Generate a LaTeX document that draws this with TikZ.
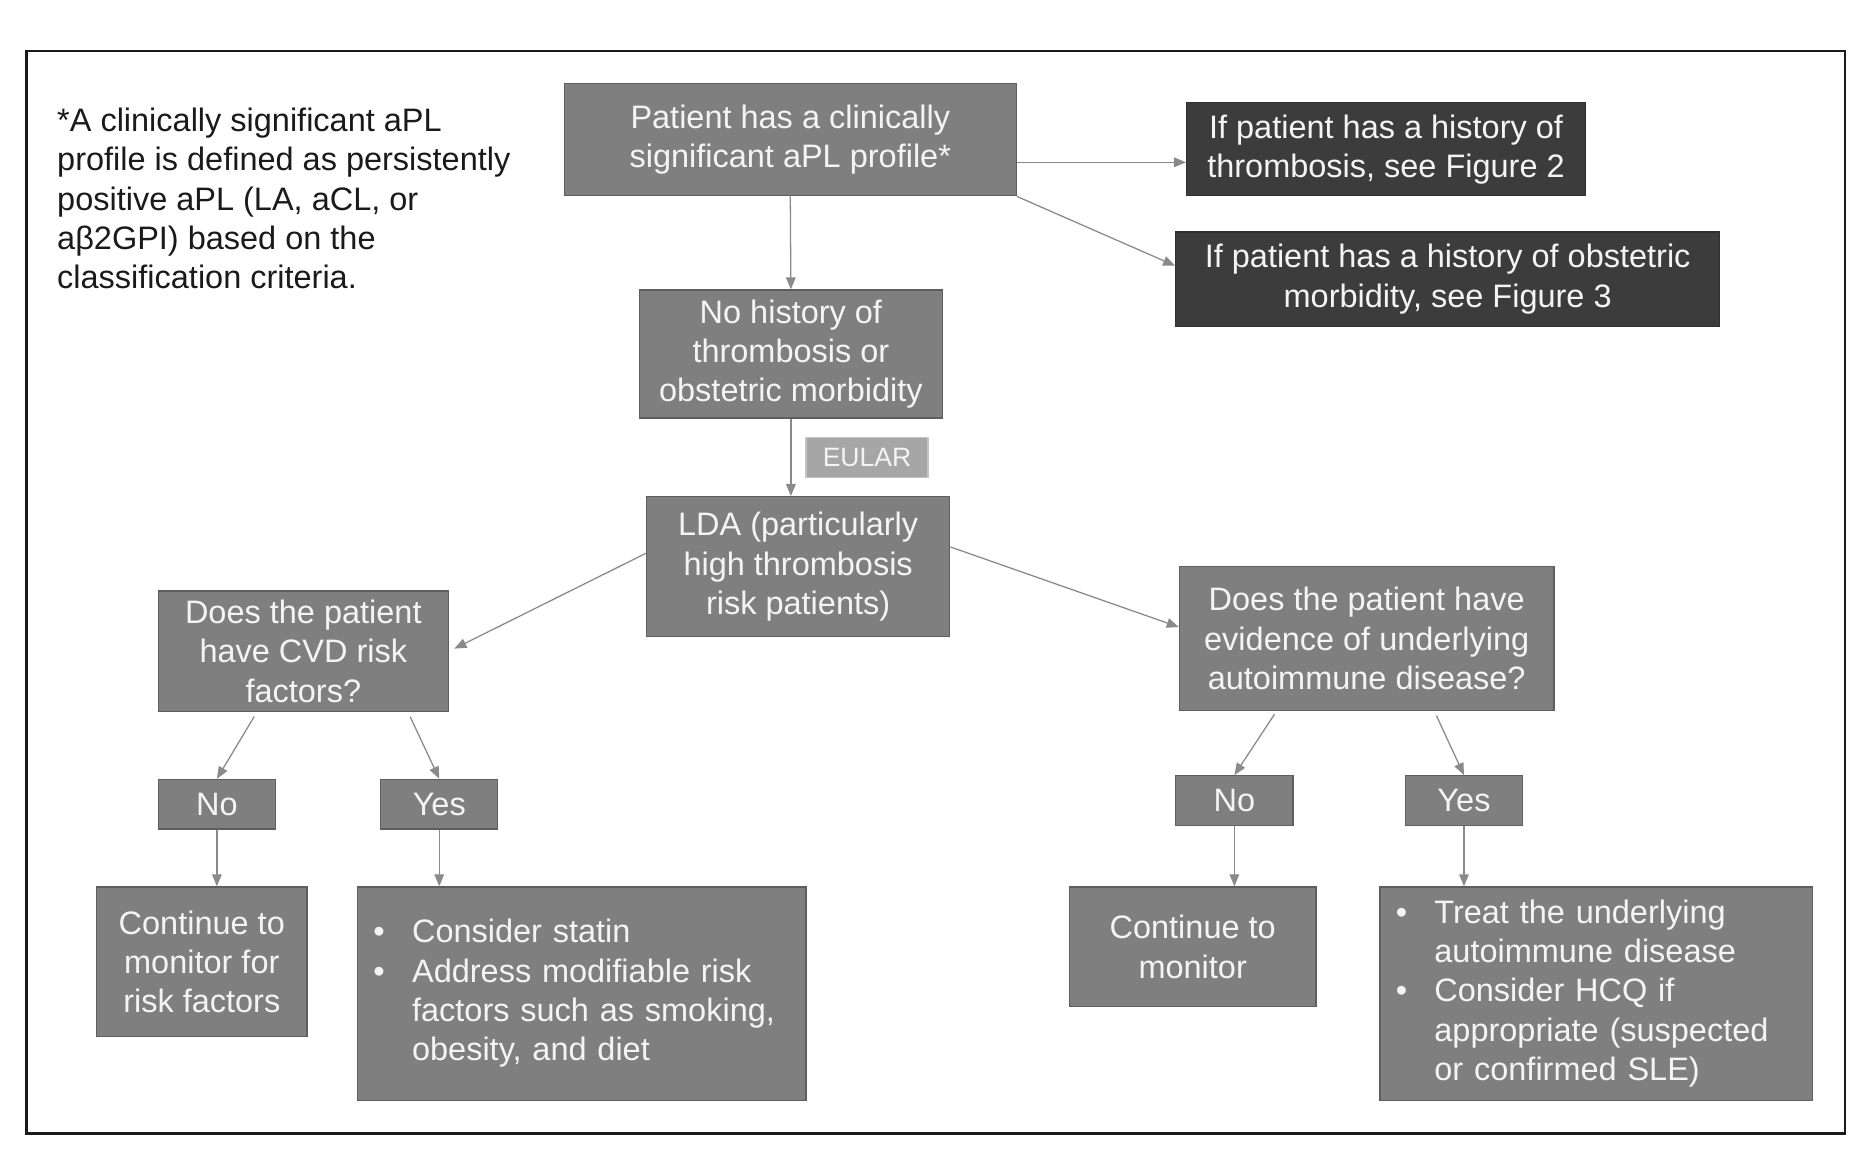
\documentclass[tikz,border=0pt]{standalone}
\usepackage{fontspec}
\setmainfont{Liberation Sans}
\usetikzlibrary{arrows.meta,calc}
\definecolor{boxgray}{HTML}{7F7F7F}
\definecolor{boxline}{HTML}{5E5E5E}
\definecolor{darkfill}{HTML}{3C3C3C}
\definecolor{tagfill}{HTML}{A6A6A6}
\definecolor{tagline}{HTML}{C4C4C4}
\definecolor{boxtext}{HTML}{F4F4F4}
\definecolor{arrowgray}{HTML}{8A8A8A}
\definecolor{notetext}{HTML}{1A1A1A}
\begin{document}
\begin{tikzpicture}[x=0.02cm, y=-0.02cm,
    box/.style={draw=boxline, line width=0.6pt, fill=boxgray, text=boxtext,
        inner sep=0pt, align=center, font=\fontsize{15.3}{18.5}\selectfont},
    darkbox/.style={box, fill=darkfill, draw=darkfill!80!black},
    tagbox/.style={box, fill=tagfill, draw=tagline, font=\fontsize{12.5}{15}\selectfont},
    answer/.style={box, minimum width=1.94cm, minimum height=0.82cm},
    listbox/.style={box, align=left, inner xsep=0.26cm},
    arr/.style={draw=arrowgray, line width=0.6pt, -{Triangle[length=0.2cm,width=0.16cm]}}]
    \useasboundingbox (0,0) rectangle (1550,968);
    \draw[line width=1.1pt, color=notetext] (22,42) rectangle (1527,938);
    % footnote
    \node[anchor=north west, inner sep=0pt, align=left, text=notetext,
        font=\fontsize{15.3}{18.5}\selectfont] (note) at (47,89)
        {*A clinically significant aPL\\profile is defined as persistently\\positive aPL (LA, aCL, or\\a\char"03B2 2GPI) based on the\\classification criteria.};
    % top of the chart
    \node[box, minimum width=7.48cm, minimum height=1.86cm] (profile) at (654,115.5)
        {Patient has a clinically\\significant aPL profile*};
    \node[darkbox, minimum width=6.6cm, minimum height=1.54cm] (thromb) at (1147,123.5)
        {If patient has a history of\\thrombosis, see Figure 2};
    \node[darkbox, minimum width=9cm, minimum height=1.56cm] (obst) at (1198,231)
        {If patient has a history of obstetric\\morbidity, see Figure 3};
    \node[box, minimum width=5.02cm, minimum height=2.12cm] (nohist) at (654.5,293)
        {No history of\\thrombosis or\\obstetric morbidity};
    \node[tagbox, minimum width=2.02cm, minimum height=0.66cm] (eular) at (717.5,378.5) {EULAR};
    \node[box, minimum width=5.02cm, minimum height=2.32cm] (lda) at (660.5,469)
        {LDA (particularly\\high thrombosis\\risk patients)};
    % the two questions
    \node[box, minimum width=4.8cm, minimum height=2cm] (cvd) at (251,539)
        {Does the patient\\have CVD risk\\factors?};
    \node[box, minimum width=6.2cm, minimum height=2.38cm] (autoimm) at (1131,528.5)
        {Does the patient have\\evidence of underlying\\autoimmune disease?};
    \node[answer] (cvdno) at (179.5,665.5) {No};
    \node[answer] (cvdyes) at (363.5,665.5) {Yes};
    \node[answer] (aino) at (1021.5,662.5) {No};
    \node[answer] (aiyes) at (1211.5,662.5) {Yes};
    % outcomes
    \node[box, minimum width=3.48cm, minimum height=2.48cm] (monrisk) at (167,796)
        {Continue to\\monitor for\\risk factors};
    \node[listbox, text width=6.9cm, minimum height=3.54cm] (statin) at (481.5,822.5)
        {\begin{tabular}{@{}p{0.64cm}@{}l@{}}
        \textbullet & Consider statin\\
        \textbullet & Address modifiable risk\\
         & factors such as smoking,\\
         & obesity, and diet
        \end{tabular}};
    \node[box, minimum width=4.08cm, minimum height=1.98cm] (monitor) at (987,783.5)
        {Continue to\\monitor};
    \node[listbox, text width=6.64cm, minimum height=3.54cm] (treat) at (1321,822.5)
        {\begin{tabular}{@{}p{0.64cm}@{}l@{}}
        \textbullet & Treat the underlying\\
         & autoimmune disease\\
        \textbullet & Consider HCQ if\\
         & appropriate (suspected\\
         & or confirmed SLE)
        \end{tabular}};
    % connectors
    \draw[arr] ($(profile.east)!0.4!(profile.south east)$) coordinate (p1) -- (p1 -| thromb.west);
    \draw[arr] (profile.south east) -- ($(obst.west)!0.28!(obst.north west)$);
    \draw[arr] (profile.south) -- (nohist.north);
    \draw[arr] (nohist.south) -- (nohist.south |- lda.north);
    \draw[arr, shorten >=0.1cm] ($(lda.west)!0.19!(lda.north west)$) -- (cvd.east);
    \draw[arr] ($(lda.east)!0.28!(lda.north east)$) -- ($(autoimm.west)!0.16!(autoimm.north west)$);
    \draw[arr, shorten <=0.08cm] ($(cvd.south west)!0.34!(cvd.south east)$) -- (cvdno.north);
    \draw[arr, shorten <=0.08cm] ($(cvd.south west)!0.86!(cvd.south east)$) -- (cvdyes.north);
    \draw[arr, shorten <=0.06cm] ($(autoimm.south west)!0.26!(autoimm.south east)$) -- (aino.north);
    \draw[arr, shorten <=0.08cm] ($(autoimm.south west)!0.68!(autoimm.south east)$) -- (aiyes.north);
    \draw[arr] (cvdno.south) -- (cvdno.south |- monrisk.north);
    \draw[arr] (cvdyes.south) -- (cvdyes.south |- statin.north);
    \draw[arr] (aino.south) -- (aino.south |- monitor.north);
    \draw[arr] (aiyes.south) -- (aiyes.south |- treat.north);
\end{tikzpicture}
\end{document}
